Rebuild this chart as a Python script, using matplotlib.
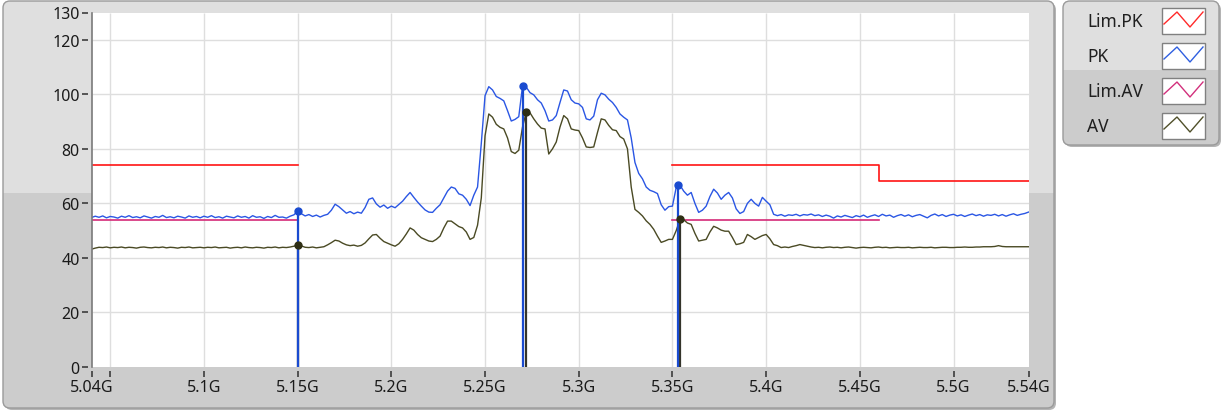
import numpy as np
import matplotlib.pyplot as plt
from matplotlib.patches import FancyBboxPatch, Rectangle

plt.rcParams['font.family'] = ['Noto Sans', 'DejaVu Sans']

# sweep 5.040 GHz .. 5.540 GHz, 2 MHz per point
freq_start_ghz = 5.040
freq_step_ghz = 0.002

pk_level = [
    54.8, 55.3, 54.9, 55.4, 54.7, 55.2, 55.0, 54.6, 55.3, 54.9,
    55.5, 54.8, 55.1, 54.7, 55.4, 55.0, 54.6, 55.2, 54.9, 55.6,
    54.8, 55.1, 54.7, 55.3, 55.0, 54.6, 55.4, 54.9, 55.2, 54.7,
    55.3, 54.9, 55.5, 54.8, 55.1, 54.6, 55.3, 55.0, 54.7, 55.4,
    54.9, 55.2, 54.6, 55.5, 54.9, 55.1, 54.5, 55.2, 54.8, 55.6,
    54.9, 55.0, 54.6, 55.3, 55.8, 57.1, 56.2, 55.4, 55.9, 55.2,
    55.7, 55.0, 55.6, 56.0, 57.5, 59.7, 58.8, 57.6, 56.4, 57.0,
    56.2, 56.8, 56.4, 58.5, 61.5, 62.0, 59.8, 58.6, 59.4, 58.2,
    59.0, 58.4, 59.6, 60.8, 62.5, 64.0, 62.2, 60.5, 59.0, 57.6,
    56.8, 56.7, 58.2, 59.5, 62.0, 64.5, 66.0, 65.5, 63.5, 63.0,
    61.5, 59.2, 63.0, 66.0, 82.0, 99.5, 102.8, 101.6, 99.2, 98.5,
    97.6, 94.0, 90.2, 90.8, 91.8, 103.0, 102.6, 100.6, 99.8, 98.0,
    96.8, 94.0, 90.2, 90.6, 92.2, 97.0, 101.6, 101.2, 98.0, 96.8,
    96.5, 95.2, 91.0, 90.6, 92.0, 98.0, 100.4, 99.8, 98.2, 97.0,
    95.2, 92.8, 91.6, 90.6, 84.0, 75.0, 71.0, 69.0, 66.0, 64.8,
    64.3, 63.6, 59.5, 57.5, 58.8, 59.0, 65.8, 66.7, 64.5, 63.0,
    64.0, 60.0, 56.7, 57.5, 59.0, 62.5, 65.2, 63.8, 61.5, 63.0,
    64.0, 62.0, 58.0, 56.3, 57.0, 60.0, 61.5, 60.0, 59.0, 62.2,
    60.8, 59.5, 56.0, 55.5, 55.9, 55.3, 55.8, 55.6, 56.0, 55.4,
    55.9, 55.7, 56.1, 55.5, 55.8, 55.2, 55.7, 55.3, 54.6, 55.4,
    55.0, 55.6, 55.2, 54.8, 55.5, 55.1, 55.7, 54.9, 55.4, 55.8,
    55.2, 56.0, 55.4, 55.7, 54.9, 55.5, 55.9, 55.3, 55.8, 55.1,
    55.6, 55.9, 55.3, 54.7, 55.6, 56.1, 55.4, 55.9, 55.2, 55.7,
    56.0, 55.4, 55.8, 55.2, 55.7, 56.1, 55.5, 55.9, 55.3, 55.8,
    55.6, 56.0, 55.4, 55.9, 55.3, 55.8, 56.2, 55.6, 56.0, 56.3, 56.8,
]

av_level = [
    43.2, 43.6, 43.9, 43.8, 44.0, 43.7, 43.9, 43.8, 44.0, 43.7,
    43.9, 43.8, 43.6, 43.9, 44.0, 43.8, 43.7, 43.9, 43.8, 44.0,
    43.7, 43.9, 43.8, 43.6, 43.9, 43.8, 44.0, 43.7, 43.8, 43.9,
    43.7, 43.9, 43.8, 44.0, 43.7, 43.8, 43.9, 43.6, 43.8, 43.9,
    43.7, 44.0, 43.8, 43.7, 43.9, 43.8, 43.6, 43.9, 43.8, 44.0,
    43.7, 43.9, 43.8, 44.0, 44.3, 44.6, 44.4, 43.9, 43.8, 44.0,
    43.7, 43.9, 44.1, 44.8, 45.6, 46.5, 46.2, 45.4, 44.8, 44.5,
    44.7, 44.3, 44.6, 45.5, 47.0, 48.4, 48.6, 47.2, 46.0, 45.4,
    44.8, 44.3, 45.2, 46.8, 48.8, 51.0, 50.2, 48.6, 47.4, 46.8,
    46.2, 46.0, 46.8, 48.0, 51.0, 53.5, 53.5, 52.5, 51.5, 51.0,
    49.5, 46.8, 47.5, 52.0, 62.0, 84.8, 92.8, 91.6, 89.0, 87.9,
    87.3, 84.0, 79.0, 78.3, 79.5, 88.0, 93.5, 93.2, 91.0, 89.1,
    87.6, 87.3, 78.1, 80.0, 82.5, 88.0, 92.2, 91.0, 87.3, 86.9,
    86.7, 84.0, 80.7, 80.5, 80.7, 86.0, 91.0, 90.6, 88.6, 87.0,
    86.7, 84.5, 83.6, 80.0, 66.0, 57.8, 56.7, 55.4, 53.6, 52.3,
    50.5, 48.0, 45.7, 46.2, 46.8, 46.8, 50.0, 54.1, 54.0, 52.8,
    52.3, 49.0, 46.2, 46.5, 46.8, 49.5, 51.6, 51.0, 50.2, 49.8,
    49.8, 47.5, 44.9, 45.2, 45.7, 48.6, 47.8, 46.8, 47.5, 48.2,
    48.6, 47.0, 44.9, 44.5, 43.8, 44.0, 43.8, 44.2, 44.5, 44.9,
    44.6, 44.3, 44.0, 43.8, 43.9, 43.7, 43.9, 44.0, 43.8, 43.9,
    43.7, 43.9, 44.0, 43.8, 43.6, 43.8, 43.9, 43.8, 43.7, 43.9,
    44.0, 43.8, 43.9, 43.7, 43.8, 43.9, 43.8, 43.8, 43.9, 43.7,
    43.8, 43.9, 43.8, 43.8, 43.9, 43.7, 43.8, 43.9, 43.9, 43.8,
    43.8, 43.9, 43.9, 44.0, 43.9, 43.9, 44.0, 44.0, 44.1, 44.1,
    44.1, 44.2, 44.5, 44.2, 44.1, 44.1, 44.1, 44.1, 44.1, 44.1, 44.1,
]

freq_ghz = freq_start_ghz + freq_step_ghz * np.arange(len(pk_level))

# limit lines (gap between the two restricted bands)
lim_pk_freq = [5.04, 5.15, np.nan, 5.35, 5.46, 5.46, 5.54]
lim_pk_level = [74, 74, np.nan, 74, 74, 68.2, 68.2]
lim_av_freq = [5.04, 5.15, np.nan, 5.35, 5.46]
lim_av_level = [54, 54, np.nan, 54, 54]

# markers
pk_marker_freq = [5.150, 5.270, 5.353]
pk_marker_level = [57.1, 103.0, 66.7]
av_marker_freq = [5.150, 5.272, 5.354]
av_marker_level = [44.6, 93.5, 54.1]

x_ticks = [5.04, 5.05, 5.10, 5.15, 5.20, 5.25, 5.30, 5.35, 5.40, 5.45, 5.50, 5.54]
x_labels = ['5.04G', '', '5.1G', '5.15G', '5.2G', '5.25G', '5.3G', '5.35G',
            '5.4G', '5.45G', '5.5G', '5.54G']
y_ticks = [0, 20, 40, 60, 80, 100, 120, 130]
grid_freq = [5.05, 5.10, 5.15, 5.20, 5.25, 5.30, 5.35, 5.40, 5.45, 5.50]
grid_level = [20, 40, 60, 80, 100, 120]

legend_names = ['Lim.PK', 'PK', 'Lim.AV', 'AV']
legend_colors = ['#ff2a2a', '#2f5fe0', '#d2307c', '#50502a']

c_pk = '#2a56e4'
c_av = '#4a4a24'
c_lim_pk = '#ff1414'
c_lim_av = '#d42a78'

W, H = 1223, 414
fig = plt.figure(figsize=(W / 100, H / 100), dpi=100, facecolor='white')

# panel background in pixel coordinates
bg = fig.add_axes([0, 0, 1, 1], zorder=-1)
bg.set_xlim(0, W)
bg.set_ylim(H, 0)
bg.axis('off')


def panel(x, y, w, h, split):
    shadow = FancyBboxPatch((x + 2, y + 2), w, h, boxstyle='round,pad=0,rounding_size=7',
                            fc='#b4b4b4', ec='none')
    bg.add_patch(shadow)
    box = FancyBboxPatch((x, y), w, h, boxstyle='round,pad=0,rounding_size=7',
                         fc='#dfdfdf', ec='none')
    bg.add_patch(box)
    low = Rectangle((x, split), w, y + h - split, fc='#cccccc', ec='none')
    bg.add_patch(low)
    low.set_clip_path(box)
    edge = FancyBboxPatch((x, y), w, h, boxstyle='round,pad=0,rounding_size=7',
                          fill=False, ec='#9a9a9a', lw=1.0)
    bg.add_patch(edge)


panel(3, 2, 1051, 407, 194)
panel(1063, 2, 156, 144, 71)

# legend
for k, (name, col) in enumerate(zip(legend_names, legend_colors)):
    top = 9 + 35 * k
    bg.text(1087, top + 13, name, fontsize=12.5, color='#202020', va='center', ha='left')
    bg.add_patch(Rectangle((1162, top), 43, 26, fc='white', ec='#808080', lw=1.0))
    bg.plot([1164, 1177, 1190, 1203], [top + 16, top + 4, top + 19, top + 4], color=col, lw=1.0)

# chart
ax = fig.add_axes([91.5 / W, 46 / H, 937 / W, 354.5 / H], facecolor='white')
ax.set_xlim(5.04, 5.54)
ax.set_ylim(0, 130)

ax.vlines(grid_freq, 0, 130, color='#dedede', lw=1.0, zorder=0)
ax.hlines(grid_level, 5.04, 5.54, color='#dedede', lw=1.0, zorder=0)

ax.plot(lim_pk_freq, lim_pk_level, color=c_lim_pk, lw=1.2, zorder=2)
ax.plot(freq_ghz, pk_level, color=c_pk, lw=1.0, zorder=3)
ax.plot(lim_av_freq, lim_av_level, color=c_lim_av, lw=1.2, zorder=2)
ax.plot(freq_ghz, av_level, color=c_av, lw=1.0, zorder=3)

ax.vlines(av_marker_freq, 0, av_marker_level, color='#34342a', lw=1.6, zorder=4)
ax.vlines(pk_marker_freq, 0, pk_marker_level, color='#1a4bd0', lw=1.6, zorder=5)
ax.plot(pk_marker_freq, pk_marker_level, 'o', color='#1a4bd0', ms=5, zorder=6)
ax.plot(av_marker_freq, av_marker_level, 'o', color='#2e2e14', ms=5, zorder=6)

for s in ['top', 'right']:
    ax.spines[s].set_visible(False)
ax.spines['bottom'].set_position(('outward', 3))
ax.spines['bottom'].set_color('none')
ax.spines['left'].set_position(('outward', 2.2))
ax.spines['left'].set_color('none')
ax.plot([0, 0], [0, 1], transform=ax.transAxes, color='#7a7a7a', lw=1.2, clip_on=False, zorder=7)

ax.set_xticks(x_ticks)
ax.set_xticklabels(x_labels)
ax.set_yticks(y_ticks)
ax.tick_params(axis='x', length=4.3, width=1.1, color='#303030', pad=1.5,
               labelsize=11.5, labelcolor='#1a1a1a')
ax.tick_params(axis='y', length=4.3, width=1.1, color='#303030', pad=2,
               labelsize=11.5, labelcolor='#1a1a1a')

fig.savefig('out.png', dpi=100)
plt.close(fig)
